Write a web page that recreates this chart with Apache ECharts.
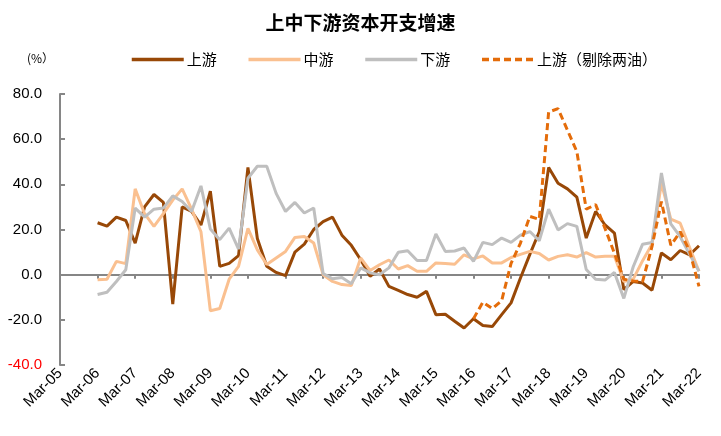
<!DOCTYPE html>
<html><head><meta charset="utf-8">
<script src="https://cdn.jsdelivr.net/npm/echarts@6/dist/echarts.min.js"></script>
<style>html,body{margin:0;padding:0;background:#fff}#c{width:721px;height:436px}</style>
</head><body><div id="c"></div>
<script>
const categories = [
 'Mar-05','Jun-05','Sep-05','Dec-05','Mar-06','Jun-06','Sep-06','Dec-06',
 'Mar-07','Jun-07','Sep-07','Dec-07','Mar-08','Jun-08','Sep-08','Dec-08',
 'Mar-09','Jun-09','Sep-09','Dec-09','Mar-10','Jun-10','Sep-10','Dec-10',
 'Mar-11','Jun-11','Sep-11','Dec-11','Mar-12','Jun-12','Sep-12','Dec-12',
 'Mar-13','Jun-13','Sep-13','Dec-13','Mar-14','Jun-14','Sep-14','Dec-14',
 'Mar-15','Jun-15','Sep-15','Dec-15','Mar-16','Jun-16','Sep-16','Dec-16',
 'Mar-17','Jun-17','Sep-17','Dec-17','Mar-18','Jun-18','Sep-18','Dec-18',
 'Mar-19','Jun-19','Sep-19','Dec-19','Mar-20','Jun-20','Sep-20','Dec-20',
 'Mar-21','Jun-21','Sep-21','Dec-21','Mar-22'
];
const seriesNames = ['上游', '中游', '下游', '上游（剔除两油）'];
const upstream = [null,null,null,null,
 23,21.5,25.5,24, 14,30,35.5,32, -13,30,28,22, 37,3.7,5,8.4, 47.5,16,3.7,1,
 -0.4,10,13.5,20, 23.5,25.5,17.5,13, 6.6,-0.7,2.5,-5.2, -7,-8.8,-10,-7.4,
 -17.7,-17.5,-20.6,-23.6, -19.5,-22.5,-23,-17.7, -12.5,-1.5,9,19, 47.5,40.5,38,34.3,
 16.2,28,22,18.4, -6.6,-3,-3.7,-6.9, 9.6,6.6,10.7,8.8, 12.8];
const midstream = [null,null,null,null,
 -2.2,-2,5.9,4.9, 38,27,21.4,27, 33,38,29,19, -16,-15,-2,3.7, 20.5,11,4.5,7.4,
 10.3,16.5,16.9,14, 0,-3,-4.4,-4.8, 7.4,1.8,4.4,6.5, 2.5,4,1.5,1.5,
 5.2,4.9,4.6,8.8, 7,8.3,5.2,5.2, 7.6,9,10.3,9.4, 6.5,8.1,8.8,7.8,
 9.8,7.8,8.2,8.2, -3,-2,6.2,13.5, 40.5,24.6,22.8,12, 1.5];
const downstream = [null,null,null,null,
 -8.8,-7.8,-3,2.2, 29.5,25.5,29,29.5, 34.9,32.4,28,39.3, 20.2,15.5,20.6,11.3,
 42.7,48,48,36, 28,32,27.3,29.5, 0.5,-1.8,-1.3,-4, 3,0.8,0,3,
 9.9,10.6,6.3,6.3, 18,10.3,10.5,11.8, 5.9,14.3,13.3,16.2, 14.3,17.5,19.1,15,
 29,19.8,22.6,21.4, 2.3,-2,-2.4,1, -10.5,3.5,13.5,14.2, 45,22.5,16.8,9, 1.5];
const upstreamExOil = [null,null,null,null,null,null,null,null,null,null,null,
 null,null,null,null,null,null,null,null,null,null,null,null,null,null,null,null,
 null,null,null,null,null,null,null,null,null,null,null,null,null,null,null,null,null,
 -19.5,-12.2,-15,-11.5, 5,14,25.8,24.5, 72,73.5,64,54.5, 29,31,20.5,9.5,
 -2,-2.8,-3,12.5, 32.4,13,19,10.5, -5.2];
const yMin = -40, yMax = 80, yStep = 20;

const FONT = '"Liberation Sans", "Noto Sans CJK SC", sans-serif';
const chart = echarts.init(document.getElementById('c'), null, {renderer: 'canvas'});
const colors = ['#984807', '#FAC090', '#BFBFBF', '#E46C0A'];
const mk = (i, data, extra) => Object.assign({
  name: seriesNames[i], type: 'line', data: data, symbol: 'none',
  connectNulls: false, animation: false, xAxisIndex: 0,
  lineStyle: {color: colors[i], width: 3},
  itemStyle: {color: colors[i]}
}, extra || {});
chart.setOption({
  animation: false,
  title: {
    text: '上中下游资本开支增速', left: 'center', top: 8,
    textStyle: {fontSize: 19, fontWeight: 'bold', color: '#000', fontFamily: '"Noto Sans CJK SC", sans-serif'}
  },
  legend: {
    data: seriesNames, left: 125, top: 47, itemWidth: 52, itemHeight: 14, itemGap: 30,
    itemStyle: {opacity: 0},
    lineStyle: {width: 3.5},
    textStyle: {fontSize: 15, color: '#000', fontFamily: '"Noto Sans CJK SC", sans-serif', padding: [0, 0, 0, -2]}
  },
  graphic: [{
    type: 'text', left: 27, top: 52,
    style: {text: '(%）', fontSize: 12, fill: '#000', fontFamily: '"Noto Sans CJK SC", sans-serif'}
  }],
  grid: {left: 60, right: 22, top: 94, bottom: 71, containLabel: false},
  xAxis: [{
    type: 'category', data: categories, boundaryGap: false, position: 'bottom',
    axisLine: {show: false, onZero: false}, axisTick: {show: false},
    axisLabel: {interval: 3, rotate: 45, fontSize: 15, color: '#000', fontFamily: FONT, margin: 6}
  }, {
    type: 'category', data: categories, boundaryGap: false, position: 'bottom',
    axisLine: {show: true, onZero: true, lineStyle: {color: '#868686', width: 2}},
    axisTick: {show: true, interval: 3, length: 4, lineStyle: {color: '#868686', width: 2}},
    axisLabel: {show: false}
  }],
  yAxis: {
    type: 'value', min: yMin, max: yMax, interval: yStep,
    axisLine: {show: true, lineStyle: {color: '#868686', width: 2}},
    axisTick: {show: true, inside: true, length: 5, lineStyle: {color: '#868686', width: 2}},
    splitLine: {show: false},
    axisLabel: {
      fontSize: 15, fontFamily: FONT, margin: 18,
      formatter: v => Number(v).toFixed(1),
      color: v => Number(v) === -40 ? '#FF0000' : '#000'
    }
  },
  series: [
    mk(0, upstream),
    mk(1, midstream),
    mk(2, downstream),
    mk(3, upstreamExOil, {lineStyle: {color: colors[3], width: 3, type: [7, 4]}})
  ]
});
</script>
</body></html>
